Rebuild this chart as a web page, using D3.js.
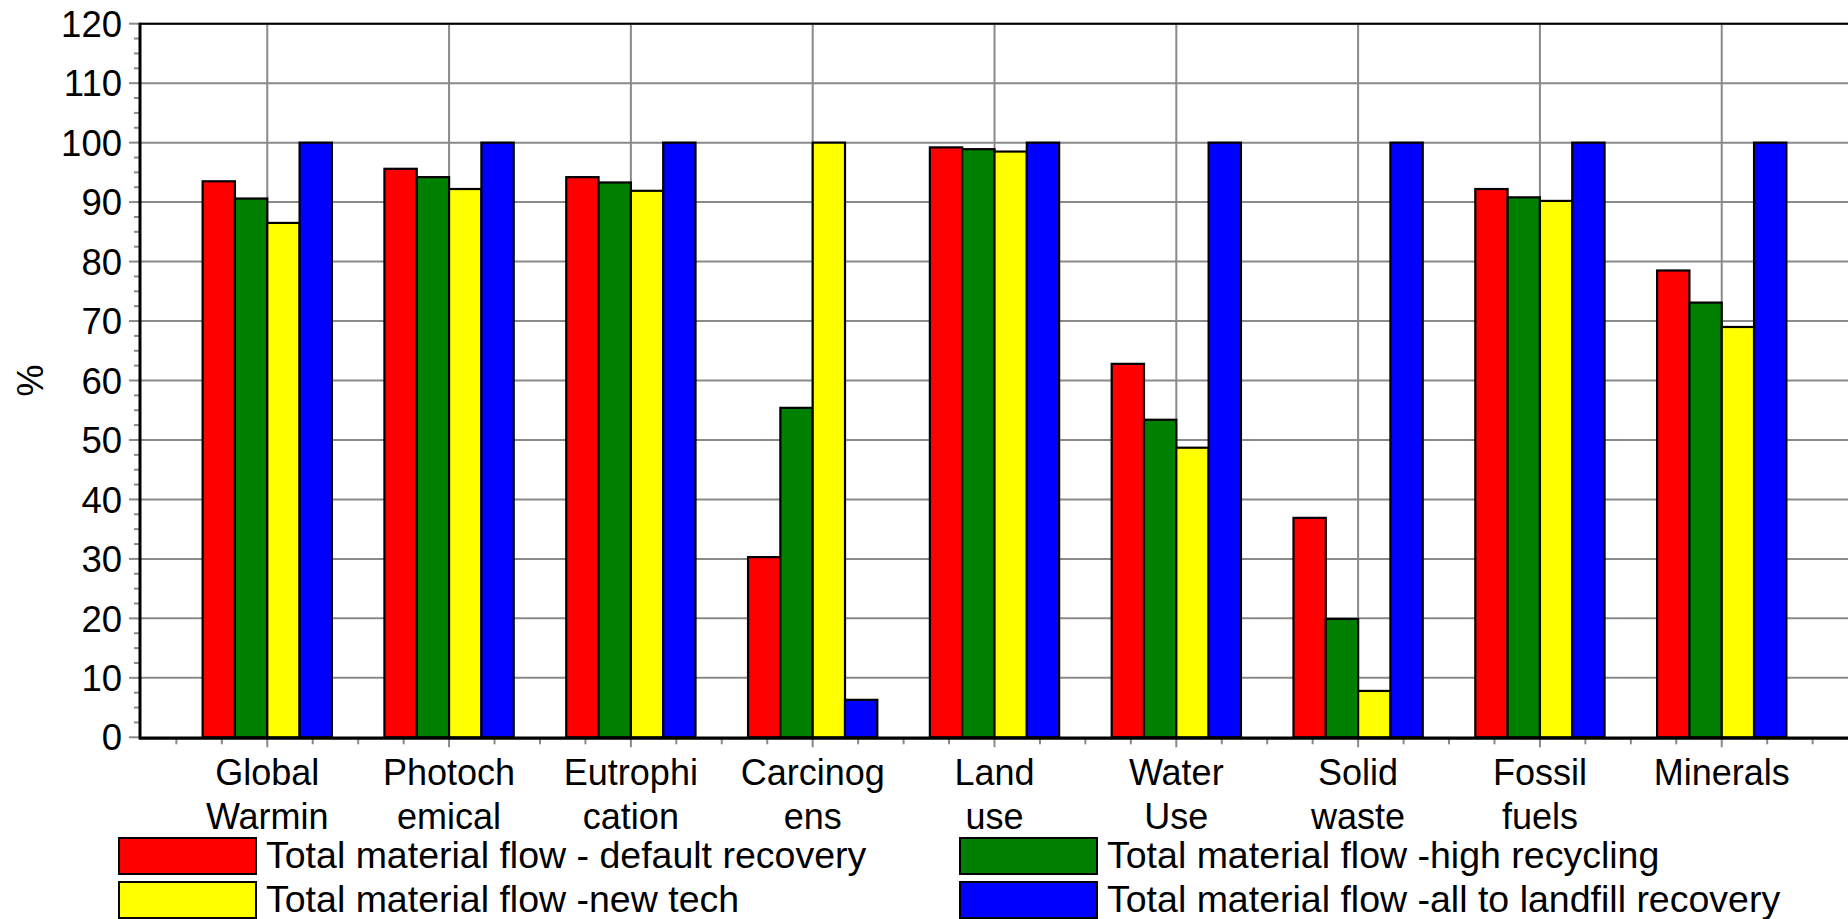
<!DOCTYPE html>
<html>
<head>
<meta charset="utf-8">
<script src="https://cdn.jsdelivr.net/npm/d3@7"></script>
<style>
  html, body { margin: 0; padding: 0; background: #fff; }
  svg { display: block; }
  text { font-family: "Liberation Sans", Arial, sans-serif; fill: #000; }
</style>
</head>
<body>
<script>
// ---- data ----
const categories = ["Global\nWarmin", "Photoch\nemical", "Eutrophi\ncation", "Carcinog\nens", "Land\nuse", "Water\nUse", "Solid\nwaste", "Fossil\nfuels", "Minerals"];
const seriesNames = [
  "Total material flow - default recovery",
  "Total material flow -high recycling",
  "Total material flow -new tech",
  "Total material flow -all to landfill recovery"
];
const defaultRecovery = [93.5, 95.6, 94.2, 30.3, 99.2, 62.8, 36.9, 92.2, 78.5];
const highRecycling   = [90.6, 94.2, 93.3, 55.4, 98.9, 53.4, 19.9, 90.8, 73.1];
const newTech         = [86.5, 92.2, 91.9, 100, 98.5, 48.7, 7.8, 90.2, 69.0];
const allToLandfill   = [100, 100, 100, 6.3, 100, 100, 100, 100, 100];
const seriesColors = ["#ff0000", "#008000", "#ffff00", "#0000ff"];
const yTicks = [0, 10, 20, 30, 40, 50, 60, 70, 80, 90, 100, 110, 120];
const yLabel = "%";

const seriesValues = [defaultRecovery, highRecycling, newTech, allToLandfill];

// ---- layout ----
const W = 1848, H = 919;
const pL = 140, pR = 1849, pT = 23.7, pB = 737.3;

const svg = d3.select("body").append("svg").attr("width", W).attr("height", H);

const x = d3.scaleBand().domain(categories).range([pL, pR]).paddingInner(0).paddingOuter(0.2);
const xs = d3.scaleBand().domain(seriesNames).range([0, x.bandwidth()]).paddingInner(0).paddingOuter(0.813);
const y = d3.scaleLinear().domain([0, 120]).range([pB, pT]);
// continuous index scale for minor ticks
const xi = d3.scaleLinear().domain([-0.7, 8.7]).range([pL, pR]);

const grid = "#8a8a8a";

// horizontal grid
svg.append("g").selectAll("line").data(yTicks).join("line")
  .attr("x1", pL).attr("x2", W)
  .attr("y1", d => y(d)).attr("y2", d => y(d))
  .attr("stroke", grid).attr("stroke-width", 2);

// vertical grid
svg.append("g").selectAll("line").data(categories).join("line")
  .attr("x1", d => x(d) + x.bandwidth() / 2).attr("x2", d => x(d) + x.bandwidth() / 2)
  .attr("y1", pT).attr("y2", pB)
  .attr("stroke", grid).attr("stroke-width", 2);

// bars
const groups = svg.append("g").selectAll("g").data(categories).join("g")
  .attr("transform", d => `translate(${x(d)},0)`);
groups.selectAll("rect")
  .data((c, ci) => seriesNames.map((s, si) => ({ s, si, v: seriesValues[si][ci] })))
  .join("rect")
  .attr("x", d => xs(d.s))
  .attr("width", xs.bandwidth())
  .attr("y", d => y(d.v))
  .attr("height", d => y(0) - y(d.v))
  .attr("fill", d => seriesColors[d.si])
  .attr("stroke", "#000").attr("stroke-width", 2.2);

// y minor ticks
const yMinor = d3.range(0, 120.01, 2.5);
svg.append("g").selectAll("line").data(yMinor).join("line")
  .attr("x1", d => (d % 10 === 0) ? pL - 11 : pL - 6).attr("x2", pL)
  .attr("y1", d => y(d)).attr("y2", d => y(d))
  .attr("stroke", grid).attr("stroke-width", 2);

// y tick labels
svg.append("g").selectAll("text").data(yTicks).join("text")
  .attr("x", 122).attr("y", d => y(d)).attr("dy", "0.36em")
  .attr("text-anchor", "end").attr("font-size", 36.5)
  .text(d => d);

// x ticks
const xMinor = d3.range(-0.5, 8.51, 0.25);
svg.append("g").selectAll("line").data(xMinor).join("line")
  .attr("x1", d => xi(d)).attr("x2", d => xi(d))
  .attr("y1", pB).attr("y2", d => Number.isInteger(d) ? pB + 10 : pB + 7)
  .attr("stroke", grid).attr("stroke-width", 2);

// axes / frame
svg.append("line").attr("x1", pL).attr("x2", W).attr("y1", pT).attr("y2", pT)
  .attr("stroke", "#000").attr("stroke-width", 2);
svg.append("line").attr("x1", pL).attr("x2", pL).attr("y1", pT - 1).attr("y2", pB + 2)
  .attr("stroke", "#000").attr("stroke-width", 3);
svg.append("line").attr("x1", pL - 1).attr("x2", W).attr("y1", pB + 1).attr("y2", pB + 1)
  .attr("stroke", "#000").attr("stroke-width", 3);

// category labels
const cl = svg.append("g").selectAll("text").data(categories).join("text")
  .attr("text-anchor", "middle").attr("font-size", 36)
  .attr("x", d => x(d) + x.bandwidth() / 2).attr("y", 785);
cl.selectAll("tspan").data(d => d.split("\n")).join("tspan")
  .attr("x", function () { return d3.select(this.parentNode).attr("x"); })
  .attr("dy", (d, i) => i === 0 ? 0 : 44)
  .text(d => d);

// y label
svg.append("text").attr("transform", `translate(${30},${(pT + pB) / 2}) rotate(-90)`)
  .attr("text-anchor", "middle").attr("dy", "0.36em").attr("font-size", 36).text(yLabel);

// legend
const legPos = [[119, 838], [960, 838], [119, 882], [960, 882]];
const leg = svg.append("g").selectAll("g").data(seriesNames).join("g")
  .attr("transform", (d, i) => `translate(${legPos[i][0]},${legPos[i][1]})`);
leg.append("rect").attr("width", 137).attr("height", 36)
  .attr("fill", (d, i) => seriesColors[i]).attr("stroke", "#000").attr("stroke-width", 2);
leg.append("text").attr("x", 147).attr("y", 30).attr("font-size", 37.5).text(d => d);
</script>
</body>
</html>
